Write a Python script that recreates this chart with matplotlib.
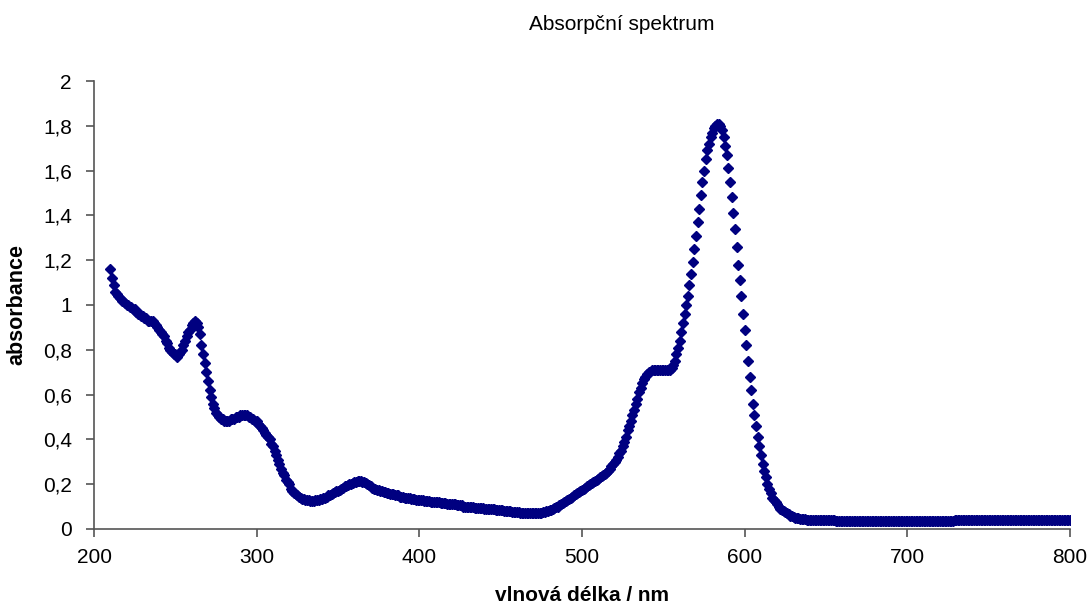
import matplotlib.pyplot as plt
from matplotlib.ticker import FuncFormatter, MultipleLocator

# wavelength grid, 1 nm step (210-800 nm)
wavelength = list(range(210, 801))

# absorbance, one row = 10 nm
absorbance = [
    1.16, 1.12, 1.09, 1.06, 1.05, 1.04, 1.03, 1.02, 1.02, 1.01,   # 210
    1.00, 1.00, 0.99, 0.99, 0.98, 0.98, 0.97, 0.96, 0.96, 0.95,   # 220
    0.95, 0.94, 0.94, 0.93, 0.93, 0.93, 0.93, 0.92, 0.91, 0.90,   # 230
    0.89, 0.88, 0.87, 0.86, 0.84, 0.83, 0.81, 0.80, 0.79, 0.78,   # 240
    0.78, 0.77, 0.78, 0.79, 0.80, 0.82, 0.84, 0.86, 0.88, 0.89,   # 250
    0.91, 0.92, 0.93, 0.92, 0.90, 0.87, 0.82, 0.78, 0.74, 0.70,   # 260
    0.66, 0.62, 0.59, 0.56, 0.54, 0.52, 0.51, 0.50, 0.49, 0.49,   # 270
    0.48, 0.48, 0.48, 0.48, 0.49, 0.49, 0.49, 0.50, 0.50, 0.50,   # 280
    0.51, 0.51, 0.51, 0.51, 0.51, 0.50, 0.50, 0.49, 0.49, 0.48,   # 290
    0.48, 0.47, 0.46, 0.45, 0.44, 0.43, 0.42, 0.41, 0.40, 0.38,   # 300
    0.37, 0.35, 0.33, 0.31, 0.29, 0.27, 0.25, 0.24, 0.22, 0.21,   # 310
    0.20, 0.18, 0.17, 0.16, 0.155, 0.15, 0.145, 0.14, 0.135, 0.135,  # 320
    0.13, 0.13, 0.13, 0.125, 0.125, 0.125, 0.13, 0.13, 0.13, 0.135,  # 330
    0.135, 0.14, 0.14, 0.145, 0.15, 0.15, 0.155, 0.16, 0.165, 0.17,  # 340
    0.17, 0.175, 0.18, 0.185, 0.19, 0.19, 0.195, 0.20, 0.20, 0.205,  # 350
    0.21, 0.21, 0.215, 0.215, 0.215, 0.21, 0.21, 0.205, 0.20, 0.195,  # 360
    0.19, 0.185, 0.18, 0.18, 0.175, 0.175, 0.17, 0.17, 0.165, 0.165,  # 370
    0.16, 0.16, 0.155, 0.155, 0.155, 0.15, 0.15, 0.15, 0.145, 0.145,  # 380
    0.145, 0.14, 0.14, 0.14, 0.14, 0.135, 0.135, 0.135, 0.13, 0.13,  # 390
    0.13, 0.13, 0.13, 0.125, 0.125, 0.125, 0.125, 0.12, 0.12, 0.12,  # 400
    0.12, 0.12, 0.12, 0.115, 0.115, 0.115, 0.115, 0.11, 0.11, 0.11,  # 410
    0.11, 0.11, 0.11, 0.105, 0.105, 0.105, 0.105, 0.10, 0.10, 0.10,  # 420
    0.10, 0.10, 0.10, 0.10, 0.095, 0.095, 0.095, 0.095, 0.095, 0.095,  # 430
    0.09, 0.09, 0.09, 0.09, 0.09, 0.09, 0.09, 0.085, 0.085, 0.085,  # 440
    0.085, 0.085, 0.08, 0.08, 0.08, 0.08, 0.08, 0.075, 0.075, 0.075,  # 450
    0.075, 0.075, 0.07, 0.07, 0.07, 0.07, 0.07, 0.07, 0.07, 0.07,  # 460
    0.07, 0.07, 0.07, 0.07, 0.07, 0.07, 0.075, 0.075, 0.08, 0.08,  # 470
    0.085, 0.085, 0.09, 0.095, 0.10, 0.10, 0.105, 0.11, 0.115, 0.12,  # 480
    0.125, 0.13, 0.135, 0.14, 0.145, 0.15, 0.155, 0.16, 0.165, 0.17,  # 490
    0.175, 0.18, 0.185, 0.19, 0.195, 0.20, 0.205, 0.21, 0.215, 0.22,  # 500
    0.225, 0.23, 0.235, 0.24, 0.245, 0.25, 0.26, 0.27, 0.28, 0.29,  # 510
    0.30, 0.31, 0.32, 0.34, 0.35, 0.37, 0.39, 0.41, 0.44, 0.46,   # 520
    0.48, 0.51, 0.53, 0.56, 0.58, 0.61, 0.63, 0.65, 0.67, 0.68,   # 530
    0.69, 0.70, 0.70, 0.71, 0.71, 0.71, 0.71, 0.71, 0.71, 0.71,   # 540
    0.71, 0.71, 0.71, 0.71, 0.71, 0.72, 0.73, 0.75, 0.78, 0.81,   # 550
    0.84, 0.88, 0.92, 0.96, 1.00, 1.04, 1.09, 1.14, 1.19, 1.25,   # 560
    1.31, 1.37, 1.43, 1.49, 1.55, 1.60, 1.65, 1.69, 1.72, 1.75,   # 570
    1.77, 1.79, 1.80, 1.81, 1.81, 1.80, 1.78, 1.75, 1.71, 1.67,   # 580
    1.61, 1.55, 1.48, 1.41, 1.34, 1.26, 1.18, 1.11, 1.04, 0.96,   # 590
    0.89, 0.82, 0.75, 0.68, 0.62, 0.56, 0.51, 0.46, 0.41, 0.37,   # 600
    0.33, 0.29, 0.26, 0.23, 0.20, 0.18, 0.16, 0.14, 0.13, 0.12,   # 610
    0.11, 0.10, 0.09, 0.085, 0.08, 0.075, 0.07, 0.065, 0.06, 0.057,  # 620
    0.054, 0.051, 0.049, 0.047, 0.046, 0.045, 0.044, 0.043, 0.042, 0.042,  # 630
    0.041, 0.041, 0.040, 0.040, 0.040, 0.040, 0.040, 0.040, 0.040, 0.040,  # 640
    0.040, 0.040, 0.039, 0.039, 0.038, 0.038, 0.037, 0.037, 0.036, 0.036,  # 650
    0.035, 0.035, 0.035, 0.035, 0.035, 0.035, 0.035, 0.035, 0.035, 0.035,  # 660
    0.035, 0.035, 0.035, 0.035, 0.035, 0.035, 0.035, 0.035, 0.035, 0.035,  # 670
    0.035, 0.035, 0.035, 0.035, 0.035, 0.035, 0.035, 0.035, 0.035, 0.035,  # 680
    0.035, 0.035, 0.035, 0.035, 0.035, 0.035, 0.035, 0.035, 0.035, 0.035,  # 690
    0.035, 0.035, 0.035, 0.035, 0.035, 0.035, 0.035, 0.035, 0.035, 0.035,  # 700
    0.035, 0.035, 0.035, 0.035, 0.035, 0.035, 0.035, 0.035, 0.035, 0.035,  # 710
    0.035, 0.035, 0.035, 0.035, 0.035, 0.035, 0.035, 0.036, 0.037, 0.038,  # 720
    0.040, 0.040, 0.040, 0.040, 0.040, 0.040, 0.040, 0.040, 0.040, 0.040,  # 730
    0.040, 0.040, 0.040, 0.040, 0.040, 0.040, 0.040, 0.040, 0.040, 0.040,  # 740
    0.040, 0.040, 0.040, 0.040, 0.040, 0.040, 0.040, 0.040, 0.040, 0.040,  # 750
    0.040, 0.040, 0.040, 0.040, 0.040, 0.040, 0.040, 0.040, 0.040, 0.040,  # 760
    0.040, 0.040, 0.040, 0.040, 0.040, 0.040, 0.040, 0.040, 0.040, 0.040,  # 770
    0.040, 0.040, 0.040, 0.040, 0.040, 0.040, 0.040, 0.040, 0.040, 0.040,  # 780
    0.040, 0.040, 0.040, 0.040, 0.040, 0.040, 0.040, 0.040, 0.040, 0.040,  # 790
    0.040,                                                          # 800
]

plt.rcParams['font.family'] = ['Liberation Sans', 'DejaVu Sans']

fig = plt.figure(figsize=(10.87, 6.10), dpi=100)
ax = fig.add_axes([0.0865, 0.1328, 0.8979, 0.7344])

ax.plot(wavelength, absorbance, linestyle='none', marker='D', markersize=5,
        color='#000080', markeredgecolor='#000080')

ax.set_xlim(200, 800)
ax.set_ylim(0, 2)
ax.xaxis.set_major_locator(MultipleLocator(100))
ax.yaxis.set_major_locator(MultipleLocator(0.2))
ax.yaxis.set_major_formatter(FuncFormatter(lambda v, p: f"{v:.1f}".rstrip('0').rstrip('.').replace('.', ',') if v else "0"))

for side in ['top', 'right']:
    ax.spines[side].set_visible(False)
for side in ['left', 'bottom']:
    ax.spines[side].set_color('#555555')
    ax.spines[side].set_linewidth(1.2)
ax.tick_params(direction='out', length=6, width=1.2, color='#555555', labelsize=15)
ax.tick_params(axis='y', pad=10)
ax.tick_params(axis='x', pad=8)

ax.set_xlabel('vlnová délka / nm', fontsize=15, fontweight='bold')
ax.set_ylabel('absorbance', fontsize=15.5, fontweight='bold')
ax.xaxis.set_label_coords(0.5, -0.128)
ax.yaxis.set_label_coords(-0.068, 0.5)
fig.text(0.572, 0.96, 'Absorpční spektrum', ha='center', va='center', fontsize=15)

fig.savefig('out.png', dpi=100)
